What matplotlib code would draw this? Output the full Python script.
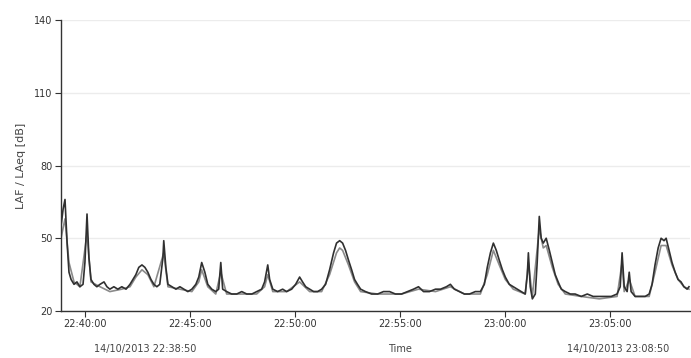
import matplotlib
matplotlib.use("Agg")
import matplotlib.pyplot as plt
import matplotlib.dates as mdates
import pandas as pd

start_time = "2013-10-14 22:38:50"
end_time = "2013-10-14 23:08:50"

# Series A (dark): minutes after start, level in dB
a_minutes = [0.00, 0.10, 0.19, 0.29, 0.38, 0.48, 0.62, 0.76, 0.90, 1.05, 1.14, 1.24, 1.33, 1.43,
             1.57, 1.71, 1.86, 2.05, 2.19, 2.33, 2.52, 2.71, 2.90, 3.10, 3.29, 3.43, 3.57, 3.71,
             3.86, 4.00, 4.14, 4.29, 4.43, 4.57, 4.71, 4.86, 4.90, 5.00, 5.10, 5.29, 5.48, 5.67,
             5.86, 6.05, 6.24, 6.43, 6.57, 6.71, 6.86, 7.00, 7.19, 7.38, 7.52, 7.62, 7.71, 7.90,
             8.14, 8.38, 8.62, 8.86, 9.10, 9.33, 9.57, 9.71, 9.86, 9.95, 10.10, 10.33, 10.57,
             10.76, 11.00, 11.19, 11.38, 11.52, 11.67, 11.86, 12.05, 12.24, 12.43, 12.62, 12.81,
             13.00, 13.14, 13.29, 13.43, 13.57, 13.71, 13.86, 14.00, 14.14, 14.29, 14.52, 14.81,
             15.10, 15.38, 15.67, 15.95, 16.24, 16.52, 16.81, 17.05, 17.29, 17.57, 17.86, 18.10,
             18.38, 18.57, 18.76, 19.00, 19.24, 19.48, 19.76, 20.00, 20.19, 20.33, 20.48, 20.62,
             20.76, 20.90, 21.05, 21.19, 21.38, 21.57, 21.76, 21.95, 22.14, 22.24, 22.29, 22.38,
             22.48, 22.62, 22.71, 22.81, 22.90, 23.00, 23.14, 23.29, 23.43, 23.57, 23.71, 23.86,
             24.05, 24.29, 24.52, 24.81, 25.10, 25.38, 25.67, 25.95, 26.24, 26.52, 26.67, 26.76,
             26.86, 27.00, 27.10, 27.19, 27.38, 27.62, 27.86, 28.05, 28.19, 28.33, 28.48, 28.62,
             28.76, 28.86, 29.00, 29.14, 29.29, 29.43, 29.57, 29.71, 29.86, 29.95]
a_values = [55, 62, 66, 48, 36, 33, 31, 32, 30, 31, 40, 60, 42, 33,
            31, 30, 31, 32, 30, 29, 30, 29, 30, 29, 31, 33, 35, 38,
            39, 38, 36, 33, 31, 30, 31, 42, 49, 38, 31, 30, 29, 30,
            29, 28, 29, 31, 34, 40, 36, 31, 29, 28, 29, 40, 29, 28,
            27, 27, 28, 27, 27, 28, 29, 32, 39, 33, 29, 28, 29,
            28, 29, 31, 34, 32, 30, 29, 28, 28, 29, 31, 37,
            44, 48, 49, 48, 45, 41, 37, 33, 31, 29, 28, 27,
            27, 28, 28, 27, 27, 28, 29, 30, 28, 28, 29, 29,
            30, 31, 29, 28, 27, 27, 28, 28, 31, 38, 44, 48,
            45, 41, 37, 34, 31, 30, 29, 28, 27, 35, 44, 30,
            25, 27, 40, 59, 50, 48, 50, 45, 40, 35, 32, 29,
            28, 27, 27, 26, 27, 26, 26, 26, 26, 27, 30, 44,
            30, 28, 36, 28, 26, 26, 26, 27, 31, 39, 46, 50,
            49, 50, 45, 40, 36, 33, 32, 30, 29, 30]

# Series B (grey)
b_minutes = [0.00, 0.19, 0.38, 0.62, 0.90, 1.24, 1.43, 1.86, 2.33, 2.90, 3.29, 3.57, 3.86, 4.14,
             4.43, 4.90, 5.10, 5.67, 6.24, 6.57, 6.71, 7.00, 7.38, 7.62, 7.90, 8.62, 9.33, 9.71,
             9.86, 10.10, 10.76, 11.38, 11.86, 12.43, 12.81, 13.14, 13.29, 13.43, 13.71, 14.00,
             14.29, 15.10, 16.24, 17.05, 17.86, 18.57, 19.24, 20.00, 20.33, 20.62, 20.90, 21.19,
             21.57, 22.14, 22.29, 22.48, 22.81, 23.00, 23.14, 23.43, 23.71, 24.05, 24.81, 25.67,
             26.52, 26.76, 26.86, 27.10, 27.38, 28.05, 28.33, 28.62, 28.86, 29.14, 29.43, 29.71,
             29.95]
b_values = [50, 58, 40, 32, 30, 52, 32, 30, 28, 29, 30, 34, 37, 35,
            30, 44, 30, 29, 28, 32, 37, 30, 27, 36, 27, 27, 27, 30,
            35, 28, 28, 32, 28, 28, 35, 44, 46, 45, 39, 32,
            28, 27, 27, 29, 28, 30, 27, 27, 35, 45, 39, 33,
            29, 27, 40, 26, 54, 46, 47, 38, 31, 27, 26, 25,
            26, 40, 28, 33, 26, 26, 36, 47, 47, 39, 33, 30,
            29]

y_ticks = [20, 50, 80, 110, 140]
y_label = "LAF / LAeq [dB]"
x_label = "Time"
left_stamp = "14/10/2013 22:38:50"
right_stamp = "14/10/2013 23:08:50"

t0 = pd.Timestamp(start_time)
t1 = pd.Timestamp(end_time)
a_t = t0 + pd.to_timedelta(a_minutes, unit="m")
b_t = t0 + pd.to_timedelta(b_minutes, unit="m")

fig = plt.figure(figsize=(6.91, 3.58), dpi=100)
ax = fig.add_axes([0.0883, 0.1313, 0.9103, 0.8128])

ax.plot(b_t, b_values, color="#8a8a8a", lw=1.2)
ax.plot(a_t, a_values, color="#303030", lw=1.2)

ax.set_xlim(t0, t1)
ax.set_ylim(20, 140)
ax.set_yticks(y_ticks)
ax.yaxis.grid(True, color="#ececec", lw=1.0)
ax.set_axisbelow(True)

ax.xaxis.set_major_locator(mdates.MinuteLocator(byminute=range(0, 60, 5)))
ax.xaxis.set_major_formatter(mdates.DateFormatter("%H:%M:%S"))

for s in ["top", "right"]:
    ax.spines[s].set_visible(False)
for s in ["left", "bottom"]:
    ax.spines[s].set_color("#333333")
    ax.spines[s].set_linewidth(1.0)

ax.tick_params(axis="both", labelsize=7, colors="#333333", length=4, width=0.8, pad=2)
ax.set_ylabel(y_label, fontsize=8, color="#444444", labelpad=6)

fig.text(145 / 691, 1 - 349 / 358, left_stamp, fontsize=7, color="#444444", ha="center", va="center")
fig.text(618 / 691, 1 - 349 / 358, right_stamp, fontsize=7, color="#444444", ha="center", va="center")
fig.text(400 / 691, 1 - 349 / 358, x_label, fontsize=7, color="#444444", ha="center", va="center")

fig.savefig("out.png", dpi=100)
